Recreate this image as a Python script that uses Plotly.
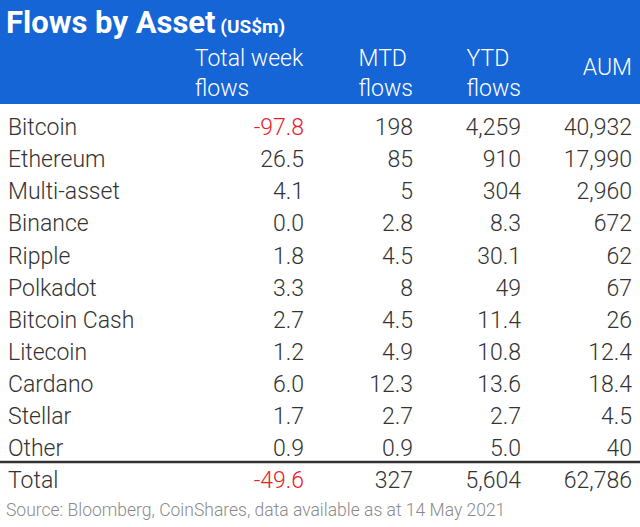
import plotly.graph_objects as go

assets = ["Bitcoin", "Ethereum", "Multi-asset", "Binance", "Ripple", "Polkadot",
          "Bitcoin Cash", "Litecoin", "Cardano", "Stellar", "Other", "Total"]
week_flows = ["-97.8", "26.5", "4.1", "0.0", "1.8", "3.3", "2.7", "1.2", "6.0", "1.7", "0.9", "-49.6"]
mtd_flows = ["198", "85", "5", "2.8", "4.5", "8", "4.5", "4.9", "12.3", "2.7", "0.9", "327"]
ytd_flows = ["4,259", "910", "304", "8.3", "30.1", "49", "11.4", "10.8", "13.6", "2.7", "5.0", "5,604"]
aum = ["40,932", "17,990", "2,960", "672", "62", "67", "26", "12.4", "18.4", "4.5", "40", "62,786"]
headers = ["", "Total week<br>flows", "MTD<br>flows", "YTD<br>flows", "<br>AUM"]
title = "Flows by Asset"
unit = "(US$m)"
source = "Source: Bloomberg, CoinShares, data available as at 14 May 2021"

BLUE = "#1565d6"
RED = "#e8202a"
TXT = "#333333"
FONT = "Roboto"

W, H = 640, 527
top_px = 37
head_h = 71
row_h = 32.1
n = len(assets)
bottom_px = top_px + head_h + row_h * n + 4

week_colors = [RED if float(v) < 0 else TXT for v in week_flows]

fig = go.Figure(go.Table(
    domain=dict(x=[0, 1], y=[1 - bottom_px / H, 1 - top_px / H]),
    columnwidth=[166, 146, 109, 108, 111],
    header=dict(
        values=headers,
        fill_color="rgba(0,0,0,0)",
        line_color="rgba(0,0,0,0)",
        align=["left", "right", "right", "right", "right"],
        font=dict(family=FONT, size=23, color="white", weight=300),
        height=head_h,
    ),
    cells=dict(
        values=[assets, week_flows, mtd_flows, ytd_flows, aum],
        fill_color="rgba(0,0,0,0)",
        line_color="rgba(0,0,0,0)",
        align=["left", "right", "right", "right", "right"],
        font=dict(family=FONT, size=23, color=[TXT, week_colors, TXT, TXT, TXT], weight=300),
        height=row_h,
    ),
))

fig.add_shape(type="rect", xref="paper", yref="paper", x0=0, x1=1, y0=1 - 104 / H, y1=1,
              fillcolor=BLUE, line_width=0, layer="below")
fig.add_shape(type="line", xref="paper", yref="paper", x0=0, x1=1,
              y0=1 - 462 / H, y1=1 - 462 / H, line=dict(color="#333333", width=2.5))

fig.add_annotation(xref="paper", yref="paper", x=4 / W, y=1 - 2 / H, xanchor="left", yanchor="top",
                   showarrow=False,
                   text=f"<b>{title}</b><span style='font-size:19px'><b> {unit}</b></span>",
                   font=dict(family=FONT, size=31, color="white"))
fig.add_annotation(xref="paper", yref="paper", x=4 / W, y=1 - 510 / H, xanchor="left", yanchor="middle",
                   showarrow=False, text=source,
                   font=dict(family=FONT, size=17.5, color="#8a8a8a", weight=300))

fig.update_layout(width=W, height=H, margin=dict(l=0, r=0, t=0, b=0),
                  paper_bgcolor="white", plot_bgcolor="white",
                  xaxis=dict(visible=False), yaxis=dict(visible=False))
fig.write_html("out.html", config={"displayModeBar": False},
               post_script="document.body.style.margin='0';document.body.style.overflow='hidden';")
